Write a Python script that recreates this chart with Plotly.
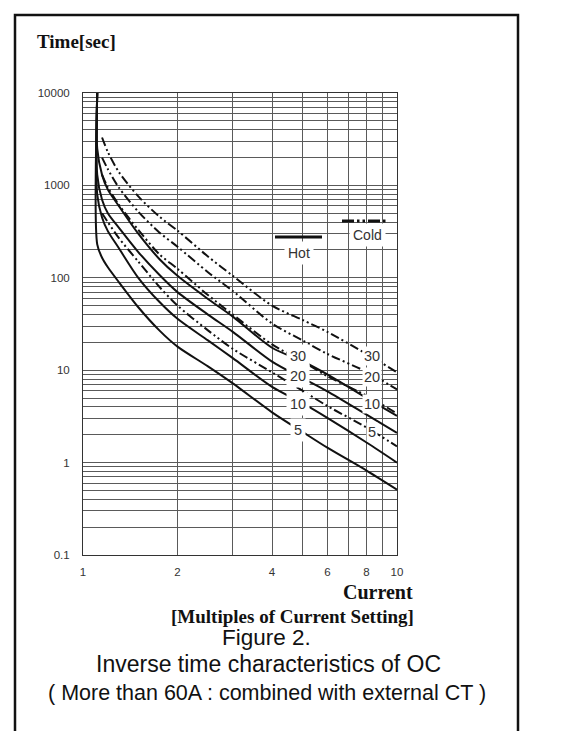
import math
import plotly.graph_objects as go

# ---------------- data ----------------
hot_x = [1.11, 1.11, 1.15, 1.2, 1.3, 1.5, 1.75, 2, 2.5, 3, 4, 5, 6, 8, 10]
hot_5 = [10000, 230, 165, 130, 90, 48, 27, 18, 11, 7.2, 3.5, 2.15, 1.45, 0.82, 0.51]
hot_10 = [10000, 800, 450, 320, 210, 100, 55, 36, 21, 13.5, 6.6, 4.4, 3.05, 1.65, 1.0]
hot_20 = [10000, 1300, 700, 500, 350, 190, 108, 70, 40, 26, 12.4, 8.2, 5.9, 3.3, 2.1]
hot_30 = [10000, 2500, 1300, 900, 600, 300, 160, 105, 59, 38, 17.5, 12.5, 9.0, 5.0, 3.2]

cold_x = [1.15, 1.2, 1.3, 1.5, 1.75, 2, 2.5, 3, 4, 5, 6, 8, 10]
cold_5 = [500, 400, 270, 150, 80, 50, 27, 17, 9.5, 6, 4.1, 2.4, 1.5]
cold_10 = [1300, 950, 620, 330, 180, 125, 65, 40, 19, 12.5, 8.6, 5.3, 3.4]
cold_20 = [2000, 1500, 950, 520, 310, 217, 115, 72, 32, 21, 15, 9.6, 6.2]
cold_30 = [3300, 2300, 1400, 760, 460, 324, 170, 105, 50, 35, 26, 15, 9.5]

settings = ["5", "10", "20", "30"]
hot_label_x = 4.84
hot_label_t = [2.28, 4.27, 8.6, 14.2]
cold_label_x = 8.33
cold_label_t = [2.17, 4.27, 8.4, 14.2]

y_tick_labels = ["0.1", "1", "10", "100", "1000", "10000"]
x_tick_labels = {1: "1", 2: "2", 4: "4", 6: "6", 8: "8", 10: "10"}

# ---------------- geometry helpers (reference pixel -> paper) ----------------
OFF = 8  # page body margin
W, H = 585 - OFF, 731 - OFF
L, R, T, B = 83, 397, 93, 555  # plot area in reference pixels


def px(x):
    return (x - L) / (R - L)


def py(y):
    return (B - y) / (B - T)


LINE = "#111111"
COLD_DASH = "9px,3px,2px,3px,2px,3px"

fig = go.Figure()
for ys in [hot_5, hot_10, hot_20, hot_30]:
    fig.add_trace(go.Scatter(x=hot_x, y=ys, mode="lines",
                             line=dict(color=LINE, width=2, shape="spline", smoothing=0.8),
                             showlegend=False, hoverinfo="skip"))
for ys in [cold_5, cold_10, cold_20, cold_30]:
    fig.add_trace(go.Scatter(x=cold_x, y=ys, mode="lines",
                             line=dict(color=LINE, width=2, dash=COLD_DASH, shape="spline", smoothing=0.8),
                             showlegend=False, hoverinfo="skip"))

# grid values
ygrid = []
for e in range(-1, 4):
    for m in range(1, 10):
        ygrid.append(m * 10 ** e)
ygrid.append(10000)
ytext = []
for v in ygrid:
    s = ""
    for lab in y_tick_labels:
        if abs(v - float(lab)) < 1e-9:
            s = lab
    ytext.append(s)
xgrid = list(range(1, 11))
xtext = [x_tick_labels.get(v, "") for v in xgrid]

GRID = "#5a5a5a"
tick_font = dict(family="Liberation Sans, Arial", size=11.5, color="#333")
fig.update_xaxes(type="log", range=[0, 1], tickvals=xgrid, ticktext=xtext,
                 showgrid=True, gridcolor=GRID, gridwidth=1,
                 showline=True, linecolor="#333", linewidth=1, mirror=True,
                 ticks="", ticklabelstandoff=6, zeroline=False, tickfont=tick_font)
fig.update_yaxes(type="log", range=[-1, 4], tickvals=ygrid, ticktext=ytext,
                 showgrid=True, gridcolor=GRID, gridwidth=1,
                 showline=True, linecolor="#333", linewidth=1, mirror=True,
                 ticks="", ticklabelstandoff=10, zeroline=False, tickfont=tick_font)

ann = []
lab_font = dict(family="Liberation Sans, Arial", size=14.5, color="#333")
for s, t in zip(settings, hot_label_t):
    ann.append(dict(x=math.log10(hot_label_x), y=math.log10(t), xref="x", yref="y",
                    xanchor="center", yanchor="middle",
                    text=s, showarrow=False, font=lab_font, bgcolor="white", borderpad=3))
for s, t in zip(settings, cold_label_t):
    ann.append(dict(x=math.log10(cold_label_x), y=math.log10(t), xref="x", yref="y",
                    xanchor="center", yanchor="middle",
                    text=s, showarrow=False, font=lab_font, bgcolor="white", borderpad=1))

# legend texts
leg_font = dict(family="Liberation Sans, Arial", size=14, color="#333")
ann.append(dict(x=px(299), y=py(253), xref="paper", yref="paper", text="Hot", showarrow=False,
                xanchor="center", yanchor="middle", font=leg_font, bgcolor="white", borderpad=3))
ann.append(dict(x=px(367), y=py(235), xref="paper", yref="paper", text="Cold", showarrow=False,
                xanchor="center", yanchor="middle", font=leg_font, bgcolor="white", borderpad=3))

serif = "Liberation Serif, Times New Roman"
sans = "Liberation Sans, Arial"
ann.append(dict(x=px(35), y=py(42), xref="paper", yref="paper", text="<b>Time[sec]</b>",
                xanchor="left", yanchor="middle", showarrow=False,
                font=dict(family=serif, size=19, color="#111")))
ann.append(dict(x=px(415), y=py(592), xref="paper", yref="paper", text="<b>Current</b>",
                xanchor="right", yanchor="middle", showarrow=False,
                font=dict(family=serif, size=20, color="#111")))
ann.append(dict(x=px(416), y=py(616), xref="paper", yref="paper",
                text="<b>[Multiples of Current Setting]</b>",
                xanchor="right", yanchor="middle", showarrow=False,
                font=dict(family=serif, size=19, color="#111")))
ann.append(dict(x=px(266), y=py(637), xref="paper", yref="paper", text="Figure 2.",
                xanchor="center", yanchor="middle",
                showarrow=False, font=dict(family=sans, size=22.5, color="#111")))
ann.append(dict(x=px(268), y=py(664), xref="paper", yref="paper",
                text="Inverse time characteristics of OC",
                xanchor="center", yanchor="middle",
                showarrow=False, font=dict(family=sans, size=23, color="#111")))
ann.append(dict(x=px(267), y=py(693), xref="paper", yref="paper",
                text="( More than 60A : combined with external CT )",
                xanchor="center", yanchor="middle",
                showarrow=False, font=dict(family=sans, size=21.5, color="#111")))

shapes = [
    # outer frame
    dict(type="rect", xref="paper", yref="paper", x0=px(15), x1=px(518), y0=py(760), y1=py(15),
         line=dict(color="#111", width=2.5), layer="above"),
    # legend lines
    dict(type="line", xref="paper", yref="paper", x0=px(275), x1=px(322), y0=py(237), y1=py(237),
         line=dict(color=LINE, width=3), layer="above"),
    dict(type="line", xref="paper", yref="paper", x0=px(342), x1=px(387), y0=py(221), y1=py(221),
         line=dict(color=LINE, width=3, dash="12px,3px,2.5px,3px,2.5px,3px"), layer="above"),
]

fig.update_layout(width=W, height=H,
                  margin=dict(l=L - OFF, r=W - (R - OFF), t=T - OFF, b=H - (B - OFF)),
                  paper_bgcolor="white", plot_bgcolor="white",
                  annotations=ann, shapes=shapes, showlegend=False)

fig.write_html("out.html")
